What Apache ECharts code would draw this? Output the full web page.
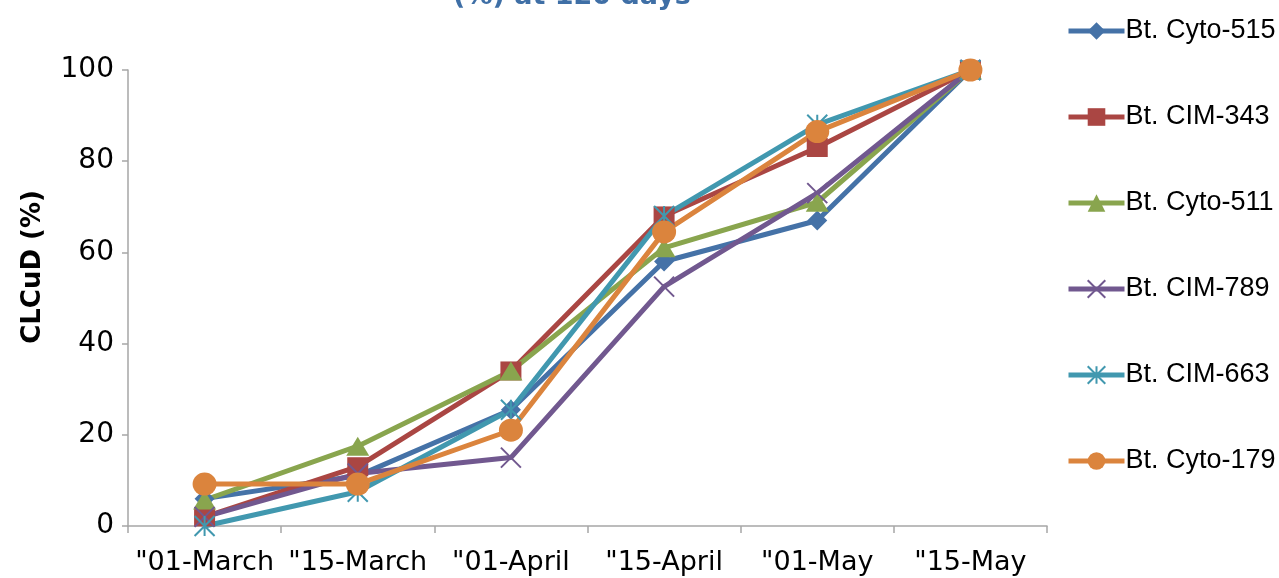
<!DOCTYPE html>
<html>
<head>
<meta charset="utf-8">
<script src="https://cdn.jsdelivr.net/npm/echarts@6/dist/echarts.min.js"></script>
<style>
  html, body { margin: 0; padding: 0; background: #fff; }
  #chart { width: 1279px; height: 578px; }
</style>
</head>
<body>
<div id="chart"></div>
<script>
// Sowing dates on the x axis
const categories = ['"01-March', '"15-March', '"01-April', '"15-April', '"01-May', '"15-May'];

// CLCuD incidence (%) per variety
const cyto515 = [6, 11, 25.5, 58, 67, 100];
const cim343  = [2, 13, 34, 68, 83, 100];
const cyto511 = [5.7, 17.5, 34, 61, 71, 100];
const cim789  = [2, 11.5, 15, 52.5, 73, 100];
const cim663  = [0, 7.5, 25.5, 68, 88, 100];
const cyto179 = [9.2, 9.2, 21, 64.5, 86.5, 100];

const seriesNames = ['Bt. Cyto-515', 'Bt. CIM-343', 'Bt. Cyto-511', 'Bt. CIM-789', 'Bt. CIM-663', 'Bt. Cyto-179'];
const yTicks = [0, 20, 40, 60, 80, 100];

const colors = ['#4572A7', '#AA4643', '#89A54E', '#71588F', '#4198AF', '#DB843D'];

const crossPath = 'path://M0,0L10,10M10,0L0,10';
const starPath = 'path://M5,0L5,10M0,0L10,10M10,0L0,10';

const markers = [
  { symbol: 'diamond', size: [20, 20], border: 0 },
  { symbol: 'rect', size: [21, 19], border: 0 },
  { symbol: 'triangle', size: [23, 19], border: 0 },
  { symbol: crossPath, size: [20, 20], border: 2 },
  { symbol: starPath, size: [20, 20], border: 2 },
  { symbol: 'circle', size: [24, 23], border: 0 }
];

const values = [cyto515, cim343, cyto511, cim789, cim663, cyto179];

const chart = echarts.init(document.getElementById('chart'), null, { renderer: 'canvas' });

const axisFont = 'DejaVu Sans';

chart.setOption({
  animation: false,
  backgroundColor: '#ffffff',
  color: colors,
  grid: { left: 128, right: 232, top: 70, bottom: 52, containLabel: false },
  legend: {
    orient: 'vertical',
    left: 1066,
    top: 17,
    itemWidth: 56,
    itemHeight: 22,
    itemGap: 58,
    padding: 0,
    lineStyle: { width: 5 },
    textStyle: { fontFamily: 'Liberation Sans', fontSize: 27, color: '#000', lineHeight: 28, padding: [0, 0, 0, -4] },
    data: seriesNames
  },
  xAxis: {
    type: 'category',
    data: categories,
    boundaryGap: true,
    axisLine: { lineStyle: { color: '#A6A6A6', width: 1.5 } },
    axisTick: { show: true, length: 7, lineStyle: { color: '#A6A6A6', width: 1.5 } },
    axisLabel: { interval: 0, fontFamily: axisFont, fontSize: 27, color: '#000', margin: 23 },
    splitLine: { show: false }
  },
  yAxis: {
    type: 'value',
    min: yTicks[0],
    max: yTicks[yTicks.length - 1],
    interval: yTicks[1] - yTicks[0],
    axisLine: { show: true, lineStyle: { color: '#A6A6A6', width: 1.5 } },
    axisTick: { show: true, length: 6, lineStyle: { color: '#A6A6A6', width: 1.5 } },
    axisLabel: { fontFamily: axisFont, fontSize: 28, color: '#000', margin: 14 },
    splitLine: { show: false }
  },
  graphic: [
    {
      type: 'text',
      x: 33, y: 267,
      rotation: Math.PI / 2,
      style: {
        text: 'CLCuD (%)',
        font: 'bold 26px "DejaVu Sans"',
        fill: '#000',
        align: 'center',
        verticalAlign: 'middle'
      }
    },
    {
      type: 'text',
      x: 572, y: 10,
      style: {
        text: '(%) at 120 days',
        font: 'bold 27px "DejaVu Sans"',
        fill: '#3F6FA6',
        align: 'center',
        verticalAlign: 'bottom'
      }
    }
  ],
  series: values.map((v, i) => ({
    name: seriesNames[i],
    type: 'line',
    data: v,
    symbol: markers[i].symbol,
    symbolSize: markers[i].size,
    showSymbol: true,
    lineStyle: { width: 5, color: colors[i] },
    itemStyle: {
      color: colors[i],
      borderColor: colors[i],
      borderWidth: markers[i].border
    },
    emphasis: { disabled: true }
  }))
});
</script>
</body>
</html>
